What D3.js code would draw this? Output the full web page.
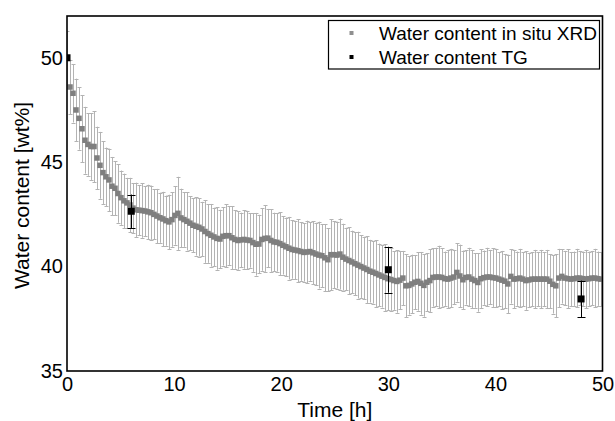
<!DOCTYPE html>
<html>
<head>
<meta charset="utf-8">
<script src="https://cdn.jsdelivr.net/npm/d3@7"></script>
<style>
  html, body { margin: 0; padding: 0; background: #fff; }
  svg { display: block; font-family: "Liberation Sans", Arial, sans-serif; }
</style>
</head>
<body>
<svg id="chart" width="615" height="421"></svg>
<script>
// ---- Data ----
const xrdStart = 0;      // h
const xrdStep = 0.28;    // h between in situ XRD measurements
const xrdValues = [
  50.0, 48.6, 48.3, 47.5, 47.1, 46.6, 46.05, 45.85, 45.75, 45.75,
  45.2, 44.85, 44.5, 44.3, 44.15, 43.85, 43.75, 43.5, 43.3, 43.15,
  43.05, 42.95, 42.8, 42.72, 42.7, 42.68, 42.66, 42.62, 42.58, 42.5,
  42.42, 42.34, 42.28, 42.2, 42.14, 42.25, 42.45, 42.55, 42.33, 42.25,
  42.17, 42.08, 41.98, 41.93, 41.88, 41.8, 41.68, 41.58, 41.5, 41.42,
  41.35, 41.32, 41.45, 41.48, 41.48, 41.38, 41.3, 41.25, 41.28, 41.3,
  41.27, 41.25, 41.15, 41.07, 41.08, 41.3, 41.35, 41.36, 41.25, 41.18,
  41.16, 41.1, 41.02, 40.95, 40.88, 40.82, 40.79, 40.76, 40.72, 40.68,
  40.7, 40.72, 40.66, 40.6, 40.55, 40.52, 40.42, 40.33, 40.57, 40.57,
  40.55, 40.6, 40.45, 40.36, 40.29, 40.22, 40.14, 40.07, 40.0, 39.93,
  39.86, 39.78, 39.73, 39.67, 39.6, 39.54, 39.48, 39.42, 39.38, 39.33,
  39.29, 39.35, 39.45, 39.08, 39.1, 39.17, 39.25, 39.29, 39.2, 39.1,
  39.25, 39.33, 39.48, 39.5, 39.5, 39.48, 39.42, 39.4, 39.45, 39.5,
  39.72, 39.55, 39.37, 39.48, 39.5, 39.4, 39.33, 39.24, 39.42, 39.47,
  39.5, 39.5, 39.47, 39.45, 39.4, 39.35, 39.3, 39.17, 39.53, 39.4,
  39.42, 39.45, 39.4, 39.33, 39.36, 39.4, 39.4, 39.4, 39.4, 39.4,
  39.4, 39.3, 39.15, 39.08, 39.45, 39.53, 39.45, 39.42, 39.4, 39.42,
  39.45, 39.45, 39.42, 39.4, 39.42, 39.45, 39.45, 39.42, 39.4
];
const xrdErrors = [
  1.3, 1.3, 1.4, 1.5, 1.5, 1.6, 1.6, 1.5, 1.6, 1.7,
  1.5, 1.6, 1.5, 1.4, 1.5, 1.4, 1.3, 1.4, 1.3, 1.3,
  1.2, 1.3, 1.2, 1.3, 1.2, 1.3, 1.2, 1.3, 1.3, 1.2,
  1.3, 1.2, 1.3, 1.2, 1.3, 1.3, 1.4, 1.75, 1.4, 1.3,
  1.4, 1.3, 1.3, 1.4, 1.4, 1.3, 1.5, 1.4, 1.5, 1.4,
  1.5, 1.4, 1.4, 1.5, 1.4, 1.5, 1.4, 1.4, 1.3, 1.4,
  1.4, 1.3, 1.4, 1.5, 1.4, 1.5, 1.6, 1.4, 1.5, 1.4,
  1.4, 1.5, 1.4, 1.4, 1.5, 1.4, 1.4, 1.5, 1.4, 1.4,
  1.5, 1.4, 1.5, 1.5, 1.6, 1.5, 1.6, 1.5, 1.7, 1.6,
  1.6, 1.7, 1.6, 1.5, 1.6, 1.5, 1.5, 1.6, 1.5, 1.5,
  1.6, 1.5, 1.5, 1.6, 1.5, 1.5, 1.6, 1.5, 1.5, 1.4,
  1.5, 1.4, 1.3, 1.5, 1.4, 1.4, 1.3, 1.4, 1.5, 1.5,
  1.4, 1.5, 1.4, 1.4, 1.5, 1.4, 1.3, 1.4, 1.4, 1.3,
  1.4, 1.5, 1.4, 1.3, 1.4, 1.4, 1.3, 1.4, 1.4, 1.3,
  1.4, 1.3, 1.4, 1.4, 1.3, 1.4, 1.3, 1.4, 1.3, 1.4,
  1.3, 1.4, 1.3, 1.4, 1.3, 1.3, 1.4, 1.3, 1.4, 1.3,
  1.4, 1.3, 1.4, 1.5, 1.4, 1.3, 1.3, 1.4, 1.3, 1.3,
  1.4, 1.3, 1.3, 1.4, 1.3, 1.3, 1.4, 1.3, 1.3
];
const tgTimes = [0, 6, 30, 48];
const tgValues = [50.0, 42.65, 39.85, 38.45];
const tgErrors = [0, 0.8, 1.1, 0.88];

const xTicks = [0, 10, 20, 30, 40, 50];
const yTicks = [35, 40, 45, 50];
const legendLabels = ["Water content in situ XRD", "Water content TG"];
const xTitle = "Time [h]";
const yTitle = "Water content [wt%]";

// ---- Build records ----
const xrd = xrdValues.map((v, i) => ({ t: xrdStart + i * xrdStep, v, e: xrdErrors[i] }));
const tg = tgValues.map((v, i) => ({ t: tgTimes[i], v, e: tgErrors[i] }));

// ---- Layout ----
const L = 67, R = 602.5, T = 16, B = 371;
const x = d3.scaleLinear().domain([0, 50]).range([L, R]);
const y = d3.scaleLinear().domain([35, 52]).range([B, T]);

const svg = d3.select("#chart");

svg.append("defs").append("clipPath").attr("id", "plotclip")
  .append("rect").attr("x", L).attr("y", T).attr("width", R - L).attr("height", B - T);

const plot = svg.append("g").attr("clip-path", "url(#plotclip)");

// XRD error bars
const xrdErrColor = "#b3b3b3";
const eb = plot.append("g").attr("stroke", xrdErrColor).attr("stroke-width", 1).attr("fill", "none");
xrd.forEach(d => {
  const cx = Math.round(x(d.t)) + 0.5;
  eb.append("line").attr("x1", cx).attr("x2", cx).attr("y1", y(d.v - d.e)).attr("y2", y(d.v + d.e));
  eb.append("line").attr("x1", cx - 2).attr("x2", cx + 2).attr("y1", Math.round(y(d.v + d.e)) + 0.5).attr("y2", Math.round(y(d.v + d.e)) + 0.5);
  eb.append("line").attr("x1", cx - 2).attr("x2", cx + 2).attr("y1", Math.round(y(d.v - d.e)) + 0.5).attr("y2", Math.round(y(d.v - d.e)) + 0.5);
});

// XRD markers
const ms = 5.5;
plot.append("g").selectAll("rect").data(xrd).join("rect")
  .attr("x", d => x(d.t) - ms / 2).attr("y", d => y(d.v) - ms / 2)
  .attr("width", ms).attr("height", ms).attr("fill", "#7f7f7f");

// TG error bars + markers
const tgG = plot.append("g");
tg.filter(d => d.e > 0).forEach(d => {
  const cx = Math.round(x(d.t)) + 0.5;
  tgG.append("line").attr("x1", cx).attr("x2", cx).attr("y1", y(d.v - d.e)).attr("y2", y(d.v + d.e)).attr("stroke", "#000").attr("stroke-width", 1);
  [d.v + d.e, d.v - d.e].forEach(vv => {
    const yy = Math.round(y(vv)) + 0.5;
    tgG.append("line").attr("x1", cx - 4).attr("x2", cx + 4).attr("y1", yy).attr("y2", yy).attr("stroke", "#000").attr("stroke-width", 1);
  });
});
const ts = 7;
tgG.selectAll("rect").data(tg).join("rect")
  .attr("x", d => x(d.t) - ts / 2).attr("y", d => y(d.v) - ts / 2)
  .attr("width", ts).attr("height", ts).attr("fill", "#000");

// Frame
svg.append("rect").attr("x", L).attr("y", T).attr("width", R - L).attr("height", B - T)
  .attr("fill", "none").attr("stroke", "#000").attr("stroke-width", 1.6);

// Axes (labels only, no tick marks)
const xAxis = d3.axisBottom(x).tickValues(xTicks).tickSize(0).tickPadding(6).tickFormat(d3.format("d"));
const gx = svg.append("g").attr("transform", `translate(0,${B})`).call(xAxis);
gx.select(".domain").remove();
gx.selectAll("text").attr("font-size", 20).attr("fill", "#000").attr("font-family", "Liberation Sans, Arial, sans-serif");

const yAxis = d3.axisLeft(y).tickValues(yTicks).tickSize(0).tickPadding(4).tickFormat(d3.format("d"));
const gy = svg.append("g").attr("transform", `translate(${L},0)`).call(yAxis);
gy.select(".domain").remove();
gy.selectAll("text").attr("font-size", 20).attr("fill", "#000").attr("font-family", "Liberation Sans, Arial, sans-serif");

// Axis titles
svg.append("text").attr("x", (L + R) / 2).attr("y", 417).attr("text-anchor", "middle")
  .attr("font-size", 21).attr("fill", "#000").text(xTitle);
svg.append("text").attr("transform", `translate(28.5,${(T + B) / 2 + 2}) rotate(-90)`).attr("text-anchor", "middle")
  .attr("font-size", 21).attr("fill", "#000").text(yTitle);

// Legend
const lg = svg.append("g");
lg.append("rect").attr("x", 328.5).attr("y", 20.5).attr("width", 271).attr("height", 48.5)
  .attr("fill", "#fff").attr("stroke", "#000").attr("stroke-width", 1.2);
const legendColors = ["#8f8f8f", "#000"];
const rowY = [33, 57];
legendLabels.forEach((lab, i) => {
  lg.append("rect").attr("x", 349.5).attr("y", rowY[i] - 2).attr("width", 4).attr("height", 4).attr("fill", legendColors[i]);
  lg.append("text").attr("x", 379).attr("y", rowY[i]).attr("dy", "0.35em")
    .attr("font-size", 19).attr("fill", "#000").text(lab);
});
</script>
</body>
</html>
